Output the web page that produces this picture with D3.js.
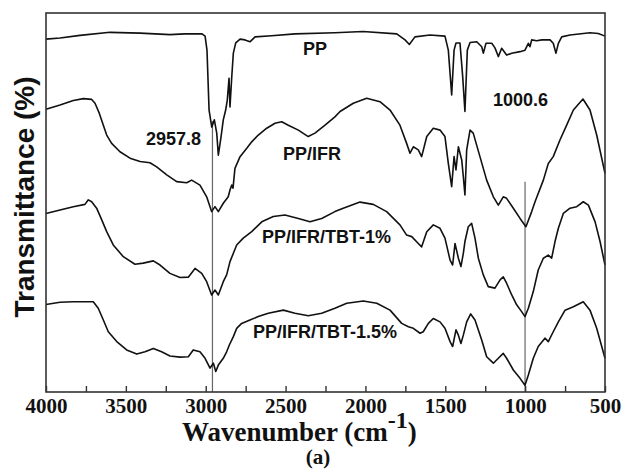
<!DOCTYPE html>
<html>
<head>
<meta charset="utf-8">
<script src="https://cdn.jsdelivr.net/npm/d3@7"></script>
<style>
  html, body { margin: 0; padding: 0; background: #fff; }
  .curve { fill: none; stroke: #111; stroke-width: 1.6; stroke-linejoin: round; }
  .marker { stroke: #666; stroke-width: 1.2; }
  .frame { fill: none; stroke: #333; stroke-width: 1.6; }
</style>
</head>
<body>
<div id="chart"></div>
<script>
// wavenumber (cm-1), transmittance (a.u., curves offset)
const ppData = [
  [4000, 93.1], [3912, 93.4], [3787, 94.1], [3599, 94.9], [3411, 94.7], [3224, 94.3],
  [3130, 94.5], [3023, 94.5], [3004, 93.9], [2992, 90.2], [2979, 74.4], [2962, 69.9],
  [2946, 71.8], [2931, 68.3], [2921, 62.5], [2904, 67.3], [2890, 71.8], [2875, 74.4],
  [2865, 77.0], [2854, 82.8], [2848, 75.2], [2837, 83.1], [2827, 89.4], [2812, 92.1],
  [2785, 93.1], [2754, 92.9], [2723, 92.4], [2691, 93.7], [2587, 94.0], [2441, 94.5],
  [2191, 94.8], [2015, 95.1], [1804, 94.5], [1752, 92.9], [1725, 91.7], [1690, 93.7],
  [1596, 94.2], [1502, 93.9], [1481, 90.2], [1460, 78.4], [1445, 90.2], [1433, 92.1],
  [1408, 92.1], [1391, 83.2], [1377, 74.0], [1362, 90.2], [1345, 92.2], [1303, 92.4],
  [1272, 91.1], [1262, 89.4], [1245, 92.0], [1209, 92.0], [1189, 90.8], [1168, 88.5],
  [1147, 90.7], [1116, 88.9], [1084, 89.4], [1032, 89.8], [1001, 90.2], [980, 92.0],
  [970, 91.1], [959, 92.9], [928, 92.7], [896, 92.9], [844, 92.9], [824, 92.0],
  [807, 89.4], [792, 92.0], [771, 93.7], [719, 94.2], [677, 94.4], [594, 94.8],
  [542, 94.6], [500, 93.9]
];

const ifrData = [
  [4000, 74.6], [3912, 75.7], [3829, 76.9], [3766, 77.4], [3714, 77.2], [3693, 76.2],
  [3666, 73.5], [3641, 70.4], [3620, 67.8], [3589, 65.6], [3537, 63.4], [3474, 61.7],
  [3411, 60.8], [3349, 60.5], [3307, 59.4], [3244, 57.3], [3182, 55.5], [3119, 55.2],
  [3088, 55.9], [3036, 54.6], [2994, 51.5], [2963, 47.6], [2942, 48.9], [2921, 47.6],
  [2890, 49.8], [2859, 51.5], [2848, 53.3], [2837, 54.6], [2829, 53.8], [2817, 59.0],
  [2785, 62.1], [2743, 64.3], [2712, 66.0], [2671, 67.8], [2618, 69.6], [2566, 70.9],
  [2524, 71.3], [2483, 70.4], [2420, 69.1], [2358, 67.4], [2316, 68.3], [2253, 70.4],
  [2191, 72.6], [2159, 74.0], [2076, 76.2], [1992, 77.5], [1909, 76.6], [1846, 74.4],
  [1784, 70.4], [1742, 65.6], [1721, 63.0], [1700, 64.7], [1669, 63.9], [1648, 62.1],
  [1616, 67.4], [1575, 69.6], [1533, 69.1], [1502, 67.4], [1481, 60.3], [1460, 54.2],
  [1445, 62.1], [1433, 58.6], [1418, 64.7], [1397, 61.2], [1387, 56.8], [1377, 52.0],
  [1366, 63.9], [1345, 69.1], [1325, 68.3], [1283, 62.1], [1241, 55.9], [1199, 51.5],
  [1168, 49.3], [1137, 51.5], [1116, 51.1], [1074, 48.5], [1032, 45.8], [995, 43.6],
  [959, 47.6], [938, 50.2], [886, 55.9], [855, 60.3], [824, 62.1], [782, 66.5],
  [740, 70.4], [698, 74.4], [638, 77.3], [594, 74.4], [552, 67.8], [500, 57.7]
];

const tbt1Data = [
  [4000, 47.1], [3912, 48.0], [3829, 48.9], [3756, 49.5], [3735, 50.7], [3714, 50.2],
  [3683, 48.5], [3651, 45.4], [3620, 42.3], [3579, 38.8], [3516, 35.7], [3443, 33.7],
  [3391, 34.0], [3328, 34.6], [3286, 33.5], [3224, 31.3], [3161, 30.2], [3109, 30.3],
  [3067, 32.6], [3025, 31.3], [2994, 29.1], [2963, 25.6], [2942, 26.9], [2921, 25.6],
  [2890, 29.1], [2869, 30.9], [2848, 34.4], [2827, 36.6], [2806, 38.8], [2765, 40.6],
  [2712, 42.3], [2649, 44.9], [2577, 46.3], [2504, 46.7], [2420, 45.8], [2347, 44.9],
  [2274, 45.8], [2191, 47.6], [2139, 48.5], [2034, 50.1], [1951, 49.5], [1867, 47.6],
  [1784, 44.1], [1742, 41.4], [1710, 41.0], [1669, 39.2], [1648, 38.3], [1616, 42.3],
  [1575, 44.1], [1533, 43.2], [1502, 40.6], [1470, 34.8], [1454, 33.5], [1439, 39.2],
  [1418, 35.3], [1402, 33.1], [1387, 36.6], [1377, 39.7], [1356, 43.6], [1335, 44.5],
  [1314, 40.6], [1293, 35.3], [1262, 30.9], [1231, 27.8], [1189, 27.4], [1157, 29.6],
  [1137, 30.4], [1116, 28.7], [1084, 25.6], [1053, 23.0], [1022, 21.2], [1001, 19.9],
  [980, 22.1], [949, 26.5], [918, 32.2], [886, 35.3], [855, 36.1], [834, 35.3],
  [813, 39.7], [792, 43.2], [761, 47.1], [719, 48.5], [677, 48.9], [636, 50.2],
  [604, 49.3], [562, 44.9], [531, 39.7], [500, 33.5]
];

const tbt15Data = [
  [4000, 23.1], [3912, 23.7], [3829, 23.8], [3704, 23.8], [3673, 22.1], [3641, 19.0],
  [3610, 15.9], [3557, 13.3], [3495, 11.1], [3432, 10.0], [3380, 10.6], [3328, 11.5],
  [3276, 10.6], [3224, 9.5], [3161, 9.2], [3109, 9.3], [3078, 11.1], [3036, 10.6],
  [3004, 8.9], [2973, 6.3], [2952, 7.6], [2937, 5.4], [2921, 7.1], [2890, 8.9],
  [2869, 10.6], [2852, 12.4], [2827, 14.6], [2806, 16.8], [2775, 18.1], [2723, 19.0],
  [2671, 19.9], [2608, 20.8], [2514, 21.6], [2441, 20.8], [2358, 20.1], [2274, 20.8],
  [2191, 22.1], [2117, 23.4], [2013, 24.0], [1929, 23.4], [1846, 21.6], [1773, 18.1],
  [1731, 17.2], [1700, 16.8], [1658, 15.5], [1638, 15.9], [1606, 18.1], [1575, 19.4],
  [1533, 18.5], [1502, 16.8], [1470, 13.3], [1454, 12.0], [1433, 16.4], [1418, 15.0],
  [1402, 12.8], [1387, 15.0], [1366, 18.5], [1341, 20.6], [1314, 19.0], [1272, 13.7],
  [1241, 9.3], [1199, 7.6], [1168, 8.9], [1137, 10.2], [1116, 8.9], [1074, 5.8],
  [1032, 3.6], [1001, 1.8], [980, 4.5], [949, 8.9], [918, 12.0], [876, 14.2],
  [855, 13.3], [824, 15.9], [792, 18.5], [750, 21.6], [698, 22.5], [636, 23.8],
  [594, 21.6], [552, 16.8], [500, 8.9]
];

// curve names and where they are written [wavenumber, transmittance]
const seriesNames = ['PP', 'PP/IFR', 'PP/IFR/TBT-1%', 'PP/IFR/TBT-1.5%'];
const seriesLabelPos = [[2391, 88.9], [2516, 61.2], [2648, 39.3], [2704, 14.2]];

// marked peaks: [wavenumber, top of the marker line]
const peakMarks = [[2957.8, 71.5], [1000.6, 55.5]];
const peakLabels = ['2957.8', '1000.6'];
const peakLabelPos = [[3374, 65.2], [1201, 75.5]];

const xTickLabels = [4000, 3500, 3000, 2500, 2000, 1500, 1000, 500];
const xMinorTicks = d3.range(4000, 499, -250);

const width = 622;
const height = 476;
const margin = {top: 13, right: 17, bottom: 84, left: 46};
const innerW = width - margin.left - margin.right;
const innerH = height - margin.top - margin.bottom;

const sansBold = '"Liberation Sans", Arial, sans-serif';
const serifBold = '"Liberation Serif", "Times New Roman", serif';

const svg = d3.select('#chart')
              .append('svg')
              .attr('width', width)
              .attr('height', height);

const g = svg.append('g')
             .attr('transform', `translate(${margin.left}, ${margin.top})`);

const xScale = d3.scaleLinear()
                 .domain([4000, 500])
                 .range([0, innerW]);

const yScale = d3.scaleLinear()
                 .domain([0, 100])
                 .range([innerH, 0]);

const line = d3.line()
               .x(d => xScale(d[0]))
               .y(d => yScale(d[1]));

// peak marker lines
g.selectAll('.marker')
 .data(peakMarks)
 .enter()
 .append('line')
 .attr('class', 'marker')
 .attr('x1', d => xScale(d[0]))
 .attr('x2', d => xScale(d[0]))
 .attr('y1', d => yScale(d[1]))
 .attr('y2', yScale(0));

// spectra
[ppData, ifrData, tbt1Data, tbt15Data].forEach(data => {
  g.append('path')
   .datum(data)
   .attr('class', 'curve')
   .attr('d', line);
});

// frame
g.append('rect')
 .attr('class', 'frame')
 .attr('width', innerW)
 .attr('height', innerH);

// inward ticks every 250
g.append('g')
 .attr('transform', `translate(0, ${innerH})`)
 .call(d3.axisBottom(xScale)
         .tickValues(xMinorTicks)
         .tickSizeInner(-6)
         .tickSizeOuter(0)
         .tickFormat(''))
 .call(ax => ax.select('.domain').remove())
 .call(ax => ax.selectAll('line').attr('stroke', '#333').attr('stroke-width', 1.4));

// tick labels
g.append('g')
 .attr('transform', `translate(0, ${innerH})`)
 .call(d3.axisBottom(xScale)
         .tickValues(xTickLabels)
         .tickSize(0)
         .tickFormat(d3.format('d')))
 .call(ax => ax.select('.domain').remove())
 .call(ax => ax.selectAll('text')
               .attr('y', 21)
               .attr('dy', null)
               .style('font-family', serifBold)
               .style('font-weight', 'bold')
               .style('font-size', '21px')
               .style('fill', '#111'));

// curve names
g.selectAll('.series-label')
 .data(seriesNames)
 .enter()
 .append('text')
 .attr('class', 'series-label')
 .attr('x', (d, i) => xScale(seriesLabelPos[i][0]))
 .attr('y', (d, i) => yScale(seriesLabelPos[i][1]))
 .style('font-family', sansBold)
 .style('font-weight', 'bold')
 .style('font-size', '18px')
 .style('fill', '#111')
 .text(d => d);

// peak values
g.selectAll('.peak-label')
 .data(peakLabels)
 .enter()
 .append('text')
 .attr('class', 'peak-label')
 .attr('x', (d, i) => xScale(peakLabelPos[i][0]))
 .attr('y', (d, i) => yScale(peakLabelPos[i][1]))
 .style('font-family', sansBold)
 .style('font-weight', 'bold')
 .style('font-size', '18px')
 .style('fill', '#111')
 .text(d => d);

// y axis title
svg.append('text')
   .attr('transform', 'translate(34, 197) rotate(-90)')
   .attr('text-anchor', 'middle')
   .style('font-family', sansBold)
   .style('font-weight', 'bold')
   .style('font-size', '28px')
   .style('fill', '#111')
   .text('Transmittance (%)');

// x axis title with superscript
const xTitle = svg.append('text')
                  .attr('x', 182)
                  .attr('y', 441)
                  .style('font-family', serifBold)
                  .style('font-weight', 'bold')
                  .style('font-size', '27px')
                  .style('fill', '#111');
xTitle.append('tspan').text('Wavenumber (cm');
xTitle.append('tspan')
      .attr('dy', -13)
      .style('font-size', '24px')
      .text('-1');
xTitle.append('tspan')
      .attr('dy', 13)
      .text(')');

svg.append('text')
   .attr('x', 318)
   .attr('y', 464)
   .attr('text-anchor', 'middle')
   .style('font-family', serifBold)
   .style('font-weight', 'bold')
   .style('font-size', '21px')
   .style('fill', '#111')
   .text('(a)');
</script>
</body>
</html>
